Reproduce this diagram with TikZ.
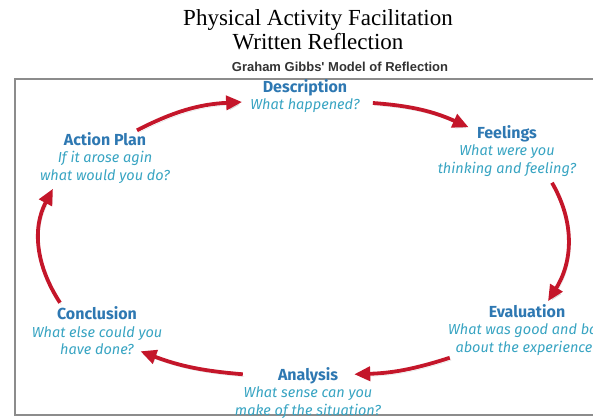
\documentclass[tikz,border=0pt]{standalone}
\usepackage{fontspec}
\setmainfont{Liberation Serif}
\newfontfamily\stagefont{Fira Sans}
\newfontfamily\headfont{Liberation Sans}
\usetikzlibrary{arrows.meta}

\definecolor{stageblue}{RGB}{46,120,178}
\definecolor{stagecyan}{RGB}{56,164,194}
\definecolor{cyclered}{RGB}{196,22,42}

\newcommand{\stagetitle}[1]{{\color{stageblue}\upshape\bfseries\fontsize{16}{17.5}\selectfont #1}}

\begin{document}
\begin{tikzpicture}[
    x=1pt, y=1pt,
    stage/.style={align=center, inner sep=2pt, text=stagecyan, font=\stagefont\fontsize{14.5}{17.5}\selectfont\itshape},
    gibbsarrow/.style={-{Triangle[length=16pt,width=14pt]}, line width=3.8pt, cyclered,
        preaction={draw, black!30, opacity=0.4, transform canvas={shift={(1.5pt,-2.5pt)}}}}
]
\clip (0,0) rectangle (593,418);
\useasboundingbox (0,0) rectangle (593,418);

% Heading
\node[font=\fontsize{23}{24}\selectfont, align=center] (title) at (318,388) {Physical Activity Facilitation\\Written Reflection};
\node[font=\headfont\bfseries\fontsize{13}{14}\selectfont, text=black!80, anchor=base] (model) at (340,346) {Graham Gibbs' Model of Reflection};

% Frame
\draw[black!45, line width=1.5pt] (15,3) rectangle (625,339);

% Stages
\node[stage] (desc) at (305,322) {\stagetitle{Description}\\What happened?};
\node[stage] (feel) at (507,267) {\stagetitle{Feelings}\\What were you\\thinking and feeling?};
\node[stage] (eval) at (527,88) {\stagetitle{Evaluation}\\What was good and bad\\about the experience?};
\node[stage] (anal) at (308,25) {\stagetitle{Analysis}\\What sense can you\\make of the situation?};
\node[stage] (concl) at (97,87) {\stagetitle{Conclusion}\\What else could you\\have done?};
\node[stage] (plan) at (105,260) {\stagetitle{Action Plan}\\If it arose agin\\what would you do?};

% Arrows
\draw[gibbsarrow] ([xshift=32pt]plan.north) to[bend left=12] ([xshift=-6pt,yshift=-6pt]desc.west);
\draw[gibbsarrow] ([xshift=11pt,yshift=-7pt]desc.east) to[bend left=10] ([xshift=33pt,yshift=-4pt]feel.north west);
\draw[gibbsarrow] ([xshift=45pt,yshift=-4pt]feel.south) to[out=-60,in=58] ([xshift=21pt,yshift=1pt]eval.north);
\draw[gibbsarrow] ([xshift=4pt]eval.south west) to[bend left=8] ([xshift=-29pt,yshift=-9pt]anal.north east);
\draw[gibbsarrow] ([xshift=10pt,yshift=-9pt]anal.north west) to[bend left=8] ([xshift=-24pt,yshift=6pt]concl.south east);
\draw[gibbsarrow] ([xshift=-37pt,yshift=2pt]concl.north) to[out=123,in=242] ([xshift=15pt,yshift=-3pt]plan.south west);

\end{tikzpicture}
\end{document}
